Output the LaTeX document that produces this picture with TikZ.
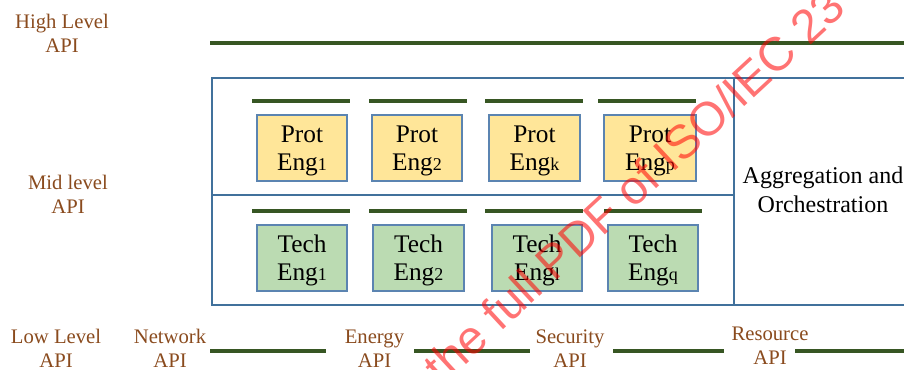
\documentclass[tikz,border=0pt]{standalone}
\usepackage{fontspec}
\setmainfont{Liberation Serif}
\newfontfamily\wmfont{Liberation Sans}
\definecolor{bargreen}{HTML}{375623}
\definecolor{frameblue}{HTML}{41719C}
\definecolor{boxblue}{HTML}{5B84B1}
\definecolor{protfill}{HTML}{FFE699}
\definecolor{techfill}{HTML}{BBDBB2}
\definecolor{apibrown}{HTML}{8A4B1E}
\newcommand\engidx[1]{{\fontsize{13.5}{13.5}\selectfont #1}}
\newcommand\topstrut{\rule{0pt}{17.5pt}}
\tikzset{
  bar/.style={draw=bargreen, line width=3pt},
  frame/.style={draw=frameblue, line width=0.8pt},
  engbox/.style={draw=boxblue, line width=0.8pt, minimum width=#1*0.75pt, minimum height=49.5pt, align=center, inner sep=0pt, font=\fontsize{19}{21}\selectfont},
  protbox/.style={engbox=#1, fill=protfill},
  techbox/.style={engbox=#1, fill=techfill},
  apilabel/.style={text=apibrown, align=center, anchor=base, inner sep=0pt, font=\fontsize{15.5}{18}\selectfont},
  agglabel/.style={text=black, align=center, anchor=base, inner sep=0pt, font=\fontsize{18}{22}\selectfont},
  wm/.style={text=red, opacity=0.55, rotate=42.8, inner sep=0pt, font=\wmfont\fontsize{35.5}{35.5}\selectfont}
}
\begin{document}
\begin{tikzpicture}[x=0.75pt,y=-0.75pt]
\useasboundingbox (0,0) rectangle (904,370);
\begin{scope}
\clip (0,0) rectangle (904,370);
% high level line
\draw[bar] (210,43) -- (904,43);
% frame
\draw[frame] (904,78) -- (212,78) -- (212,305) -- (904,305);
\draw[frame] (734,78) -- (734,305);
\draw[frame] (212,195) -- (734,195);
% prot bars
\draw[bar] (252,101) -- (350,101);
\draw[bar] (369,101) -- (467,101);
\draw[bar] (485,101) -- (583,101);
\draw[bar] (598,101) -- (696,101);
% tech bars
\draw[bar] (252,211) -- (350,211);
\draw[bar] (369,211) -- (467,211);
\draw[bar] (485,211) -- (583,211);
\draw[bar] (604,211) -- (702,211);
% prot boxes
\node[protbox=90] (p1) at (302,148) {\topstrut Prot\\Eng\engidx{1}};
\node[protbox=90] (p2) at (417,148) {\topstrut Prot\\Eng\engidx{2}};
\node[protbox=91] (p3) at (534.5,148) {\topstrut Prot\\Eng\engidx{k}};
\node[protbox=92] (p4) at (650,148) {\topstrut Prot\\Eng\engidx{p}};
% tech boxes
\node[techbox=90] (t1) at (302,258) {\topstrut Tech\\Eng\engidx{1}};
\node[techbox=91] (t2) at (418.5,258) {\topstrut Tech\\Eng\engidx{2}};
\node[techbox=90] (t3) at (537,258) {\topstrut Tech\\Eng\engidx{l}};
\node[techbox=90] (t4) at (653,258) {\topstrut Tech\\Eng\engidx{q}};
% aggregation
\node[agglabel] (agg) at (823,213) {Aggregation and\\Orchestration};
% api labels
\node[apilabel] (hl) at (62,53) {High Level\\API};
\node[apilabel] (ml) at (68,214) {Mid level\\API};
\node[apilabel] (ll) at (56,368) {Low Level\\API};
\node[apilabel] (net) at (170,368) {Network\\API};
\node[apilabel] (ene) at (374.5,368) {Energy\\API};
\node[apilabel] (sec) at (570,368) {Security\\API};
\node[apilabel] (res) at (770,365) {Resource\\API};
% low level lines
\draw[bar] (210,351) -- (326,351);
\draw[bar] (414,351) -- (530,351);
\draw[bar] (613,351) -- (724,351);
\draw[bar] (795,351) -- (904,351);
% watermark
\node[wm] (wmk) at (634,186) {the full PDF of ISO/IEC 23};
\end{scope}
\end{tikzpicture}
\end{document}
